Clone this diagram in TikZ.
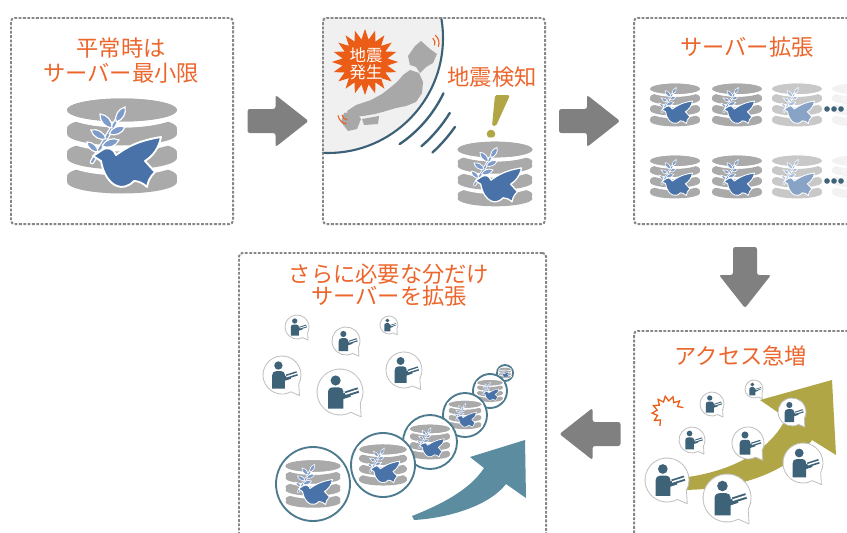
\documentclass[tikz,border=0pt]{standalone}
\usepackage{fontspec}
\newfontfamily\jp{Noto Sans CJK JP}
\usetikzlibrary{positioning,calc,shapes.geometric}

\definecolor{capOrange}{RGB}{236,102,44}
\definecolor{burstOrange}{RGB}{235,92,22}
\definecolor{panelGray}{RGB}{135,135,135}
\definecolor{arrowGray}{RGB}{128,128,128}
\definecolor{diskGray}{RGB}{170,170,170}
\definecolor{doveBlue}{RGB}{72,114,168}
\definecolor{leafBlue}{RGB}{126,156,202}
\definecolor{slate}{RGB}{62,98,120}
\definecolor{bubbleGray}{RGB}{192,192,192}
\definecolor{oliveArrow}{RGB}{176,166,70}
\definecolor{ringTeal}{RGB}{76,122,142}
\definecolor{tealArrow}{RGB}{92,140,160}
\definecolor{globeFill}{RGB}{240,240,240}
\definecolor{globeLine}{RGB}{60,96,118}
\definecolor{mapGray}{RGB}{168,168,168}

\tikzset{
  panel/.style={draw=panelGray, line width=1.7pt, dash pattern=on 2.4pt off 1.3pt,
    rounded corners=3pt, minimum width=6.66cm, minimum height=6.18cm, inner sep=0pt},
  caption/.style={text=capOrange, font=\jp\fontsize{19}{21.3}\selectfont, align=center, inner sep=0pt},
  pics/flowarrow/.style={code={
    \fill[arrowGray, rounded corners=2pt] (-30.5,-12) -- (-2.5,-12) -- (-2.5,-26) -- (30.5,0)
      -- (-2.5,26) -- (-2.5,12) -- (-30.5,12) -- cycle;
  }},
  % #1 = scale, #2 = strength of the colours (100 = full)
  pics/server/.style 2 args={code={
    \colorlet{diskC}{diskGray!#2!white}
    \colorlet{doveC}{doveBlue!#2!white}
    \colorlet{leafC}{leafBlue!#2!white}
    \begin{scope}[scale=#1]
      % disks from the bottom up, each with a white rim
      \foreach \t/\b in {30/36, 6/12, -18/-12, -36/-36} {
        \fill[white] (0,\t) ellipse [x radius=61, y radius=17.5];
        \fill[white] (0,\b) ellipse [x radius=61, y radius=17.5];
        \fill[white] (-61,\t) rectangle (61,\b);
        \fill[diskC] (0,\t) ellipse [x radius=55, y radius=11.5];
        \fill[diskC] (0,\b) ellipse [x radius=55, y radius=11.5];
        \fill[diskC] (-55,\t) rectangle (55,\b);
      }
      % branch
      \draw[white, line width=#1*4pt, line cap=round] (-30,16) -- (-4,-28);
      \draw[leafC, line width=#1*1.8pt, line cap=round] (-30,16) -- (-4,-28);
      \foreach \bx/\by/\tx/\ty in {-6/-24/3/-39, -10/-18/-22/-32, -13/-12/3/-19,
          -16/-7/-31/-16, -20/0/-3/-6, -24/6/-35/-4} {
        \filldraw[fill=leafC, draw=white, line width=#1*1pt]
          (\bx,\by) to[bend left=45] (\tx,\ty) to[bend left=45] (\bx,\by);
      }
      % dove
      \filldraw[fill=doveC, draw=white, line width=#1*1.6pt, line join=round]
        (-29,10) -- (-20,4) .. controls (-14,0) and (-8,3) .. (-6,9)
        .. controls (4,2) and (14,-5) .. (39,-9)
        .. controls (37,2) and (31,10) .. (23,15) -- (33,26)
        .. controls (28,31) and (26,35) .. (25,41)
        .. controls (21,37) and (16,35) .. (12,35)
        .. controls (6,41) and (0,42) .. (-5,40)
        .. controls (-13,37) and (-19,27) .. (-21,15) -- cycle;
    \end{scope}
  }},
  % person with a book in a speech bubble, #1 = bubble radius
  pics/reader/.style={code={
    \begin{scope}[scale=#1]
      \filldraw[fill=white, draw=bubbleGray, line width=0.7pt, line join=round]
        (62:1) arc[start angle=62, end angle=388, radius=1] -- (0.92,1.08) -- cycle;
      \fill[slate] (-0.19,-0.5) circle (0.22);
      \fill[slate] (-0.52,0.72) -- (-0.52,0.02) .. controls (-0.52,-0.12) and (-0.44,-0.2) .. (-0.3,-0.2)
        -- (-0.04,-0.2) .. controls (0.07,-0.2) and (0.15,-0.12) .. (0.15,-0.02)
        -- (0.15,0.72) -- cycle;
      \fill[slate] (0,0.1) -- (0.42,-0.02) -- (0.47,0.2) -- (0.04,0.34) -- cycle;
      \fill[slate] (0.2,-0.02) -- (0.76,-0.2) -- (0.83,0.03) -- (0.27,0.2) -- cycle;
      \draw[white, line width=#1*0.06pt] (0.23,0.09) -- (0.8,-0.09);
    \end{scope}
  }}
}

\begin{document}
\begin{tikzpicture}[x=0.03cm, y=-0.03cm]
\useasboundingbox (0,0) rectangle (847,532);
\fill[white] (0,0) rectangle (847,532);

% globe and map
\begin{scope}
  \clip (322,17) rectangle (545,223);
  \filldraw[fill=globeFill, draw=globeLine, line width=1.8pt] (328,38) circle (115);
  \fill[mapGray] (415,46) -- (421,41) -- (430,49) -- (437,54) -- (433,63) -- (426,67) -- (420,73)
    -- (416,67) -- (410,65) -- (408,56) -- cycle;
  \fill[mapGray] (410,70) -- (419,73) -- (423,82) -- (422,93) -- (416,102) -- (406,106) -- (396,108)
    -- (386,111) -- (375,114) -- (363,116) -- (352,117) -- (347,111) -- (356,105) -- (371,100)
    -- (382,94) -- (391,87) -- (398,81) -- (403,75) -- cycle;
  \fill[mapGray] (344,113) -- (355,111) -- (361,119) -- (357,129) -- (348,131) -- (341,122) -- cycle;
  \fill[mapGray] (362,119) -- (379,116) -- (378,124) -- (364,125) -- cycle;
\end{scope}
\foreach \r/\a/\b in {128/25.6/56, 143/31.6/49.2, 155/35/47.6}
  \draw[globeLine, line width=2pt, line cap=round] (328,38) ++(\a:\r) arc[start angle=\a, end angle=\b, radius=\r];
\foreach \r in {6,10} {
  \draw[burstOrange, line width=0.9pt, line cap=round] (429,43) ++(-50:\r) arc[start angle=-50, end angle=20, radius=\r];
  \draw[burstOrange, line width=0.9pt, line cap=round] (348,114) ++(100:\r) arc[start angle=100, end angle=170, radius=\r];
}
\node[star, star points=20, star point ratio=1.45, fill=burstOrange, minimum size=1.98cm, inner sep=0pt] (quake) at (365,62) {};
\node[text=white, font=\jp\fontsize{14}{14.5}\selectfont, align=center, inner sep=0pt] (quaketxt) at (366,64) {地震\\発生};

% panels
\node[panel, anchor=north west] (normal) at (10,17) {};
\node[panel, anchor=north west] (detect) at (322,17) {};
\node[panel, anchor=north west] (expand) at (633,17) {};
\node[panel, anchor=north west, minimum width=9.21cm, minimum height=9cm] (scaleout) at (238,252) {};
\node[panel, anchor=north west] (surge) at (633,330) {};

\pic at ($(normal.east)!0.5!(detect.west)$) {flowarrow};
\pic at ($(detect.east)!0.5!(expand.west)$) {flowarrow};
\pic[rotate=-90] at ($(expand.south)!0.5!(surge.north)$) {flowarrow};
\pic[rotate=180] at ($(surge.west)!0.5!(scaleout.east |- surge.west)$) {flowarrow};

% titles
\node[caption] (normalcap) at (121,61) {平常時は\\サーバー最小限};
\node[caption] (detectcap) at (492,77) {地震検知};
\node[caption] (expandcap) at (747,47) {サーバー拡張};
\node[caption, font=\jp\fontsize{19}{19.1}\selectfont] (scalecap) at (389,285) {さらに必要な分だけ\\サーバーを拡張};
\node[caption] (surgecap) at (741,356) {アクセス急増};

% normal time
\pic at (122,146) {server={1}{100}};

% detection
\fill[oliveArrow, rounded corners=1.5pt] (495,95) -- (510,95) -- (496,126) -- (492,126) -- cycle;
\fill[oliveArrow] (491,134) circle (4.3);
\pic at (495,174) {server={0.68}{100}};

% expansion grid
\foreach \row in {105,177} {
  \foreach \col/\fade in {675/100, 737/100, 797/65, 857/15}
    \pic at (\col,\row) {server={0.45}{\fade}};
  \foreach \dx in {827,834,841}
    \fill[slate] (\dx,\row+4) circle (2.8);
}

% access surge
\fill[oliveArrow] (680,478) .. controls (735,472) and (772,448) .. (786,418) -- (760,400) -- (832,380)
  -- (836,455) -- (812,440) .. controls (795,465) and (750,490) .. (680,490) -- cycle;
\begin{scope}[shift={(668,412)}]
  \draw[burstOrange, line width=1.1pt] (-16:16) \foreach \i in {1,...,16} { -- ({-16-\i*14}:{mod(\i,2)==1 ? 11 : 16}) };
\end{scope}
\foreach \x/\y/\r in {754/389/9, 712/404/12, 792/412/14, 692/440/13, 748/443/16, 803/463/20, 667/480/22, 727/498/24}
  \pic at (\x,\y) {reader=\r};

% scaled out
\foreach \x/\y/\r in {297/327/12, 346/341/14, 389/325/9, 282/375/19, 340/392/23, 404/370/18}
  \pic at (\x,\y) {reader=\r};
\fill[tealArrow] (412,516) .. controls (440,505) and (470,490) .. (484,468) -- (470,457) -- (525,440)
  -- (526,498) -- (506,484) .. controls (490,505) and (450,518) .. (414,520) -- cycle;
\foreach \x/\y/\r [evaluate=\r as \s using \r*0.0135] in {505/373/8, 490/391/17, 465/415/22, 430/442/27, 383/465/32, 313/484/37} {
  \filldraw[fill=white, draw=ringTeal, line width=1.6pt] (\x,\y) circle (\r);
  \pic at (\x,\y) {server={\s}{100}};
}
\end{tikzpicture}
\end{document}
